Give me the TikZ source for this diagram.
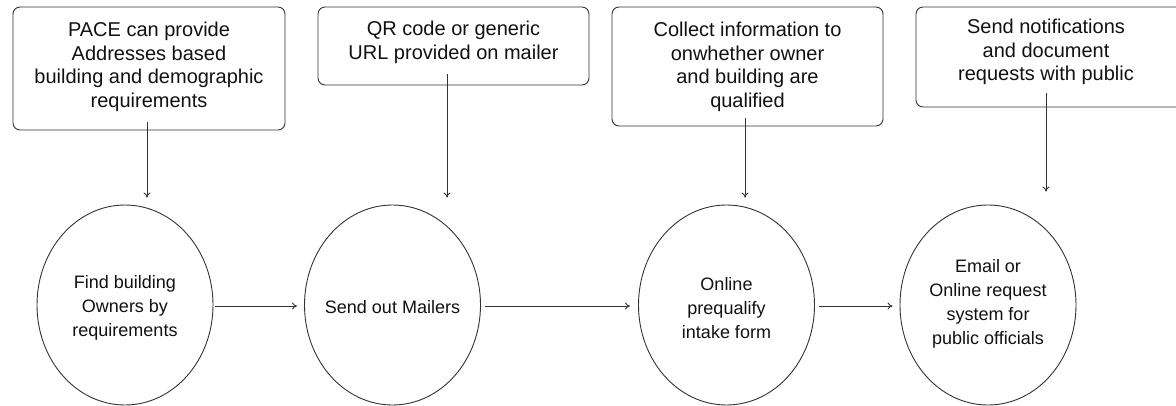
\documentclass[tikz,border=0pt]{standalone}
\usepackage{fontspec}
\setmainfont{Liberation Sans}
\usetikzlibrary{shapes.geometric,arrows.meta}
\definecolor{ln}{HTML}{333333}
\definecolor{tx}{HTML}{111111}
\tikzset{
  box/.style={draw=ln, line width=0.9pt, rounded corners=7pt, inner sep=0pt},
  txt/.style={align=center, text=tx, inner sep=0pt, font=\fontsize{20}{23.5}\selectfont},
  ctxt/.style={align=center, text=tx, inner sep=0pt, font=\fontsize{18}{24}\selectfont},
  oval/.style={draw=ln, line width=0.9pt, ellipse, minimum width=176pt, minimum height=200pt, inner sep=0pt},
  arr/.style={draw=ln, line width=0.9pt, -{To[length=5pt,width=7pt]}}
}
\begin{document}
\begin{tikzpicture}[x=1pt,y=-1pt]
\useasboundingbox (0,0) rectangle (1176,405);
% boxes
\node[box, minimum width=272pt, minimum height=123pt] (b1) at (149,68.5) {};
\node[txt] at (149,67) {PACE can provide\\Addresses based\\building and demographic\\requirements};
\node[box, minimum width=271pt, minimum height=78pt] (b2) at (453.5,46) {};
\node[txt] at (453.5,42.5) {QR code or generic\\URL provided on mailer};
\node[box, minimum width=271pt, minimum height=119pt] (b3) at (747.5,66.5) {};
\node[txt] at (747.5,67) {Collect information to\\onwhether owner\\and building are\\qualified};
\node[box, minimum width=275pt, minimum height=100pt] (b4) at (1053.5,57) {};
\node[txt] at (1046,52) {Send notifications\\and document\\requests with public};
% circles
\node[oval] (c1) at (125,305) {};
\node[ctxt] at (125,308) {Find building\\Owners by\\requirements};
\node[oval] (c2) at (392.5,305) {};
\node[ctxt] at (392.5,307) {Send out Mailers};
\node[oval] (c3) at (726.5,305) {};
\node[ctxt] at (726.5,308) {Online\\prequalify\\intake form};
\node[oval] (c4) at (988,305) {};
\node[ctxt] at (988,304) {Email or\\Online request\\system for\\public officials};
% arrow starts (inside boxes)
\coordinate (s1) at (147,122);
\coordinate (s2) at (447,74);
\coordinate (s3) at (745,118);
\coordinate (s4) at (1046,93);
\draw[arr, shorten >=7pt] (s1) -- (s1 |- c1.north);
\draw[arr, shorten >=7pt] (s2) -- (s2 |- c2.north);
\draw[arr, shorten >=7pt] (s3) -- (s3 |- c3.north);
\draw[arr, shorten >=13pt] (s4) -- (s4 |- c4.north);
% horizontal arrows
\draw[arr, shorten <=2pt, shorten >=7pt] ([yshift=-1pt]c1.east) -- ([yshift=-1pt]c2.west);
\draw[arr, shorten <=4pt, shorten >=8pt] ([yshift=-1pt]c2.east) -- ([yshift=-1pt]c3.west);
\draw[arr, shorten <=4pt, shorten >=7pt] ([yshift=-1pt]c3.east) -- ([yshift=-1pt]c4.west);
\end{tikzpicture}
\end{document}
